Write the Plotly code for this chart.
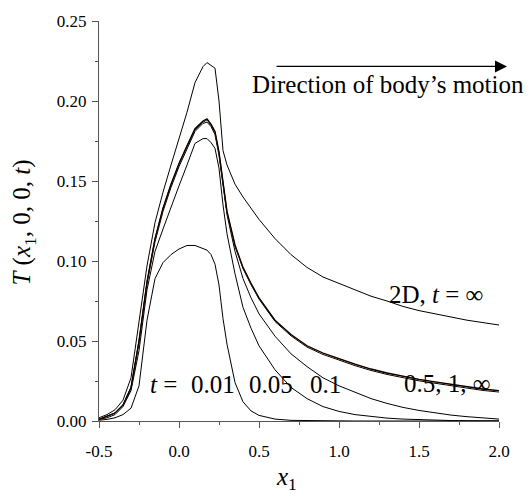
import plotly.graph_objects as go

# shared x grid
X = [-0.5, -0.45, -0.4, -0.35, -0.3, -0.25, -0.2, -0.15, -0.1, -0.05, 0.0, 0.05, 0.1, 0.15, 0.175,
     0.2, 0.225, 0.25, 0.275, 0.3, 0.35, 0.4, 0.45, 0.5, 0.6, 0.7, 0.8, 0.9, 1.0, 1.1, 1.2, 1.3,
     1.4, 1.5, 1.6, 1.7, 1.8, 1.9, 2.0]

T_001 = [0.0005, 0.001, 0.002, 0.004, 0.008, 0.022, 0.063, 0.089, 0.099, 0.104, 0.1075, 0.1097, 0.1097,
         0.108, 0.1068, 0.104, 0.098, 0.085, 0.064, 0.048, 0.024, 0.012, 0.0063, 0.0035, 0.0012, 0.0004,
         0.0002, 0.0001, 0.0001, 0, 0, 0, 0, 0, 0, 0, 0, 0, 0]
T_005 = [0.001, 0.002, 0.004, 0.009, 0.019, 0.044, 0.082, 0.106, 0.120, 0.134, 0.147, 0.160, 0.1735,
         0.1765, 0.1765, 0.174, 0.1704, 0.158, 0.135, 0.117, 0.092, 0.071, 0.058, 0.047, 0.032, 0.021,
         0.014, 0.009, 0.006, 0.004, 0.0027, 0.0018, 0.0012, 0.0008, 0.0005, 0.0003, 0.0002, 0.0001, 0.0001]
T_01 = [0.001, 0.003, 0.005, 0.010, 0.020, 0.049, 0.086, 0.112, 0.131, 0.146, 0.159, 0.170, 0.181,
        0.186, 0.1868, 0.184, 0.179, 0.166, 0.147, 0.129, 0.106, 0.089, 0.077, 0.067, 0.053, 0.042,
        0.034, 0.027, 0.022, 0.018, 0.014, 0.011, 0.0085, 0.0066, 0.005, 0.0037, 0.0027, 0.0018, 0.0012]
T_05 = [0.001, 0.003, 0.005, 0.010, 0.021, 0.050, 0.0868, 0.1137, 0.1327, 0.1476, 0.1606, 0.1715, 0.1820,
        0.1868, 0.1882, 0.1848, 0.1803, 0.1672, 0.1492, 0.1302, 0.1092, 0.0952, 0.0852, 0.0762, 0.0622,
        0.0532, 0.0462, 0.0416, 0.0381, 0.0346, 0.0316, 0.0291, 0.0271, 0.0251, 0.0236, 0.0221, 0.0206,
        0.0191, 0.0181]
T_1 = [0.001, 0.003, 0.005, 0.010, 0.021, 0.050, 0.087, 0.114, 0.133, 0.148, 0.161, 0.172, 0.1825,
       0.1873, 0.1887, 0.1853, 0.1808, 0.1678, 0.1498, 0.1308, 0.1098, 0.0958, 0.0858, 0.0768, 0.0628,
       0.0538, 0.0468, 0.0423, 0.0388, 0.0353, 0.0323, 0.0298, 0.0278, 0.0258, 0.0243, 0.0228, 0.0213,
       0.0198, 0.0188]
T_INF = [0.001, 0.003, 0.005, 0.010, 0.021, 0.050, 0.087, 0.114, 0.133, 0.148, 0.161, 0.172, 0.1827,
         0.1875, 0.1889, 0.1855, 0.181, 0.168, 0.150, 0.131, 0.110, 0.096, 0.086, 0.077, 0.063, 0.054,
         0.047, 0.0425, 0.039, 0.0355, 0.0325, 0.030, 0.028, 0.026, 0.0245, 0.023, 0.0215, 0.020, 0.019]
T_2D = [0.002, 0.004, 0.007, 0.013, 0.027, 0.062, 0.097, 0.124, 0.143, 0.160, 0.176, 0.193, 0.2115,
        0.2215, 0.224, 0.2225, 0.2205, 0.200, 0.169, 0.160, 0.148, 0.140, 0.133, 0.126, 0.114, 0.104,
        0.096, 0.090, 0.086, 0.082, 0.078, 0.075, 0.0716, 0.069, 0.067, 0.065, 0.063, 0.0615, 0.060]

X_TICKS = [-0.5, 0.0, 0.5, 1.0, 1.5, 2.0]
Y_TICKS = [0.00, 0.05, 0.10, 0.15, 0.20, 0.25]

SERIES = [
    ("t = 0.01", T_001, "black", 1),
    ("t = 0.05", T_005, "black", 1),
    ("t = 0.1", T_01, "black", 1),
    ("t = 0.5", T_05, "black", 1),
    ("t = 1", T_1, "#e0601a", 1),
    ("t = ∞", T_INF, "black", 1.3),
    ("2D, t = ∞", T_2D, "black", 1),
]

fig = go.Figure()
for name, ys, color, w in SERIES:
    fig.add_trace(go.Scatter(x=X, y=ys, mode="lines", name=name,
                             line=dict(color=color, width=w), showlegend=False))

FONT = "Liberation Serif, serif"
AXC = "#555555"
axis_common = dict(showline=True, linecolor=AXC, linewidth=1, ticks="outside", ticklen=6,
                   tickcolor=AXC, showgrid=False, zeroline=False, mirror=False,
                   ticklabeloverflow="allow",
                   tickfont=dict(family=FONT, size=17, color="black"))
fig.update_xaxes(range=[-0.5, 2.0], tickvals=X_TICKS, ticktext=[f"{v:.1f}" for v in X_TICKS],
                 ticklabelstandoff=9,
                 minor=dict(ticks="outside", ticklen=3, dtick=0.25, tick0=-0.5, tickcolor=AXC),
                 **axis_common)
fig.update_yaxes(range=[0, 0.25], tickvals=Y_TICKS, ticktext=[f"{v:.2f}" for v in Y_TICKS],
                 ticklabelstandoff=2,
                 minor=dict(ticks="outside", ticklen=3, dtick=0.025, tick0=0, tickcolor=AXC),
                 **axis_common)

ann_font = dict(family=FONT, size=25, color="black")
labels = [
    (-0.094, 0.0228, "<i>t</i> ="),
    (0.2125, 0.0228, "0.01"),
    (0.575, 0.0228, "0.05"),
    (0.9125, 0.0228, "0.1"),
    (1.681, 0.0235, "0.5, 1, ∞"),
    (1.606, 0.079, "2D, <i>t</i> = ∞"),
    (1.306, 0.2105, "Direction of body’s motion"),
]
for x, y, t in labels:
    fig.add_annotation(x=x, y=y, xref="x", yref="y", text=t, showarrow=False, font=ann_font,
                       xanchor="center", yanchor="middle")

# direction arrow
fig.add_annotation(x=2.05, y=0.2216, ax=0.6, ay=0.2216, xref="x", yref="y", axref="x", ayref="y",
                   text="", showarrow=True, arrowhead=2, arrowsize=2, arrowwidth=1.2,
                   arrowcolor="black")

# axis titles
fig.add_annotation(x=-0.1875, y=0.496, xref="paper", yref="paper", textangle=-90, showarrow=False,
                   xanchor="center", yanchor="middle",
                   text="<i>T</i> (<i>x</i><sub>1</sub>, 0, 0, <i>t</i>)", font=ann_font)
fig.add_annotation(x=0.4675, y=-0.1432, xref="paper", yref="paper", showarrow=False,
                   xanchor="center", yanchor="middle",
                   text="<i>x</i><sub>1</sub>", font=ann_font)

fig.update_layout(width=530, height=498, margin=dict(l=99, r=31, t=16, b=77),
                  font=dict(family=FONT, color="black"),
                  paper_bgcolor="white", plot_bgcolor="white", showlegend=False)

# remove the default 8px page margin so the figure fills the window exactly
fig.write_html("out.html", config={"displayModeBar": False},
               post_script="document.body.style.margin='0';")
